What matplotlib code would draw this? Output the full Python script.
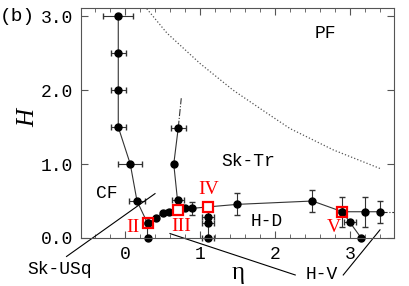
import matplotlib
matplotlib.use('Agg')
import matplotlib.pyplot as plt
import numpy as np

plt.rcParams['font.family'] = ['Liberation Mono', 'DejaVu Sans']

# left boundary (CF / Sk-Tr)
eta_cf = [-0.09, -0.09, -0.09, -0.09, 0.07, 0.16, 0.3, 0.3]
h_cf = [3.0, 2.5, 2.0, 1.5, 1.0, 0.5, 0.2, 0.0]
xerr_cf = [0.2, 0.1, 0.1, 0.1, 0.16, 0.11, 0.0, 0.0]

# lower boundary (II -> III -> IV -> V)
eta_low = [0.3, 0.41, 0.5, 0.59, 0.71, 0.8, 0.89, 1.1, 1.5, 2.5, 2.9, 3.2, 3.4]
h_low = [0.2, 0.27, 0.34, 0.355, 0.38, 0.4, 0.4, 0.42, 0.455, 0.5, 0.355, 0.355, 0.355]
xerr_low = [0, 0, 0, 0.05, 0, 0.06, 0, 0, 0, 0, 0, 0, 0]
yerr_low = [0, 0, 0, 0, 0, 0, 0.09, 0, 0.15, 0.15, 0.2, 0.2, 0.15]

# right branch of CF region
eta_rb = [0.71, 0.65, 0.7, 0.71]
h_rb = [1.49, 1.0, 0.51, 0.38]
xerr_rb = [0.1, 0, 0.08, 0]
eta_rb_ext = [0.71, 0.75]
h_rb_ext = [1.49, 1.89]

# vertical chain below IV
eta_iv = [1.1, 1.1, 1.1, 1.1]
h_iv = [0.42, 0.29, 0.2, 0.0]
xerr_iv = [0, 0.08, 0.08, 0.08]

# branch below V
eta_v = [2.9, 3.0, 3.15]
h_v = [0.355, 0.21, 0.0]
xerr_v = [0, 0.08, 0]

eta_ext = [3.4, 3.6]
h_ext = [0.355, 0.355]

# PF boundary (dotted)
eta_pf = [0.29, 0.56, 1.0, 1.44, 1.89, 2.2, 2.78, 3.4]
h_pf = [3.1, 2.77, 2.36, 2.0, 1.69, 1.48, 1.19, 0.94]

# marked points
eta_mark = [0.3, 0.71, 1.1, 2.9]
h_mark = [0.2, 0.38, 0.42, 0.355]
mark_face = ['none', 'white', 'white', 'none']
mark_lab = ['II', 'III', 'IV', 'V']
lab_pos = [(0.11, 0.145), (0.75, 0.16), (1.11, 0.65), (2.78, 0.145)]

fig = plt.figure(figsize=(4.09, 2.86), dpi=100)
ax = fig.add_axes([81 / 409, 48 / 286, 313 / 409, 230 / 286])

lc = '#333333'
eb = dict(fmt='-o', color=lc, ms=5, lw=0.8, elinewidth=0.8, capsize=2, mfc='black', mec='black', clip_on=False)
ax.errorbar(eta_cf, h_cf, xerr=xerr_cf, **eb)
ax.errorbar(eta_low, h_low, xerr=xerr_low, yerr=yerr_low, **eb)
ax.errorbar(eta_rb, h_rb, xerr=xerr_rb, **eb)
ax.errorbar(eta_iv, h_iv, xerr=xerr_iv, **eb)
ax.errorbar(eta_v, h_v, xerr=xerr_v, **eb)
ax.plot(eta_rb_ext, h_rb_ext, '-.', color=lc, lw=0.8)
ax.plot(eta_ext, h_ext, '-.', color=lc, lw=0.8)
ax.plot(eta_pf, h_pf, ':', color='#555555', lw=0.9)

for x, y, fc in zip(eta_mark, h_mark, mark_face):
    ax.plot(x, y, 's', ms=6.5, mfc=fc, mec='red', mew=1.6, zorder=5)
for lab, (x, y) in zip(mark_lab, lab_pos):
    ax.text(x, y, lab, color='red', fontsize=14, family='Liberation Serif', ha='center', va='center')

# annotation lines
ax.plot([-0.78, 0.4], [-0.25, 0.6], color='black', lw=0.8, clip_on=False)
ax.plot([0.6, 2.27], [0.06, -0.5], color='black', lw=0.8, clip_on=False)
ax.plot([2.91, 3.4], [-0.5, 0.11], color='black', lw=0.8, clip_on=False)

fs = 13
ax.text(-0.24, 0.6, 'CF', fontsize=fs, ha='center', va='center')
ax.text(1.64, 1.03, 'Sk-Tr', fontsize=fs, ha='center', va='center')
ax.text(1.89, 0.22, 'H-D', fontsize=fs, ha='center', va='center')
ax.text(2.67, 2.77, 'PF', fontsize=fs, ha='center', va='center')
ax.text(-0.87, -0.43, 'Sk-USq', fontsize=fs, ha='center', va='center')
ax.text(2.62, -0.5, 'H-V', fontsize=fs, ha='center', va='center')

ax.set_xlim(-0.587, 3.587)
ax.set_ylim(0, 3.11)
ax.set_xticks([0, 1, 2, 3])
ax.set_xticks(np.arange(-0.4, 3.6, 0.2), minor=True)
ax.set_yticks([0, 1, 2, 3])
ax.set_yticklabels(['0.0', '1.0', '2.0', '3.0'])
ax.tick_params(which='both', direction='in', top=True, right=True, labelsize=13, color='#555555')
ax.tick_params(which='major', length=5, pad=6)
ax.tick_params(which='minor', length=3)
for s in ax.spines.values():
    s.set_color('#555555')

fig.text(0.582, 0.045, 'η', fontsize=18, family='Liberation Serif', ha='center', va='center')
fig.text(0.068, 0.587, 'H', fontsize=18, family='Liberation Serif', style='italic', rotation=90, ha='center', va='center')
fig.text(0.0, 0.944, '(b)', fontsize=14, ha='left', va='center')

plt.savefig('out.png', dpi=100)
